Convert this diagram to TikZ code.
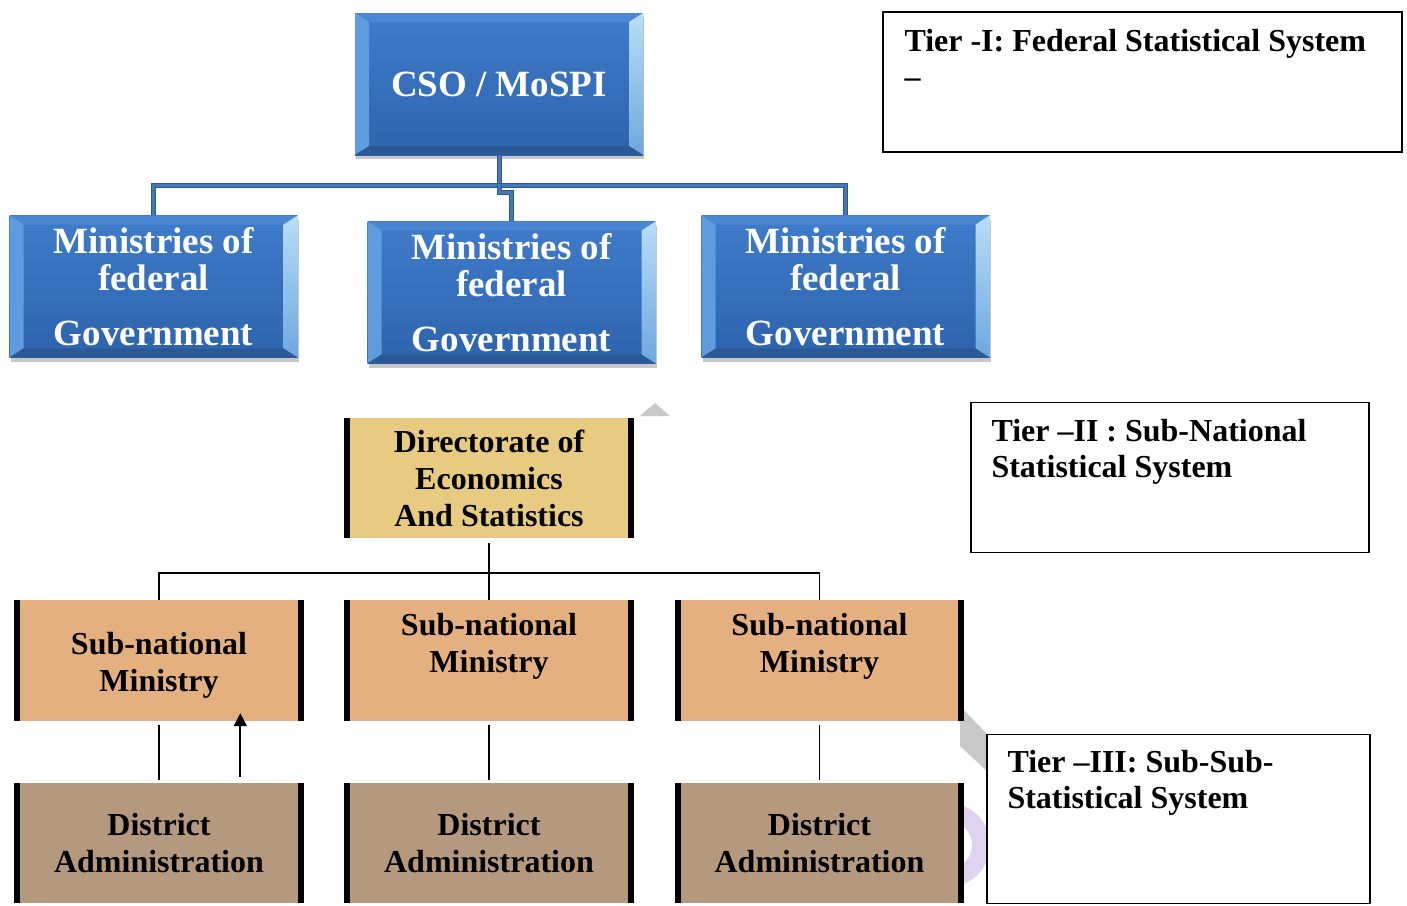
\documentclass[tikz,border=0pt]{standalone}
\usepackage{fontspec}
\setmainfont{Liberation Serif}
\usetikzlibrary{shadows,arrows.meta,calc}

\definecolor{bvface1}{HTML}{3F7CCB}
\definecolor{bvface2}{HTML}{2D63AC}
\definecolor{bvtopc}{HTML}{4A86D2}
\definecolor{bvleftc}{HTML}{5F9BDF}
\definecolor{bvright1}{HTML}{B8DEF8}
\definecolor{bvright2}{HTML}{6EA7DF}
\definecolor{bvbotc}{HTML}{2A5996}
\definecolor{linkblue}{HTML}{4478B8}
\definecolor{linkedge}{HTML}{2D5A8E}
\definecolor{dirfill}{HTML}{E6CB80}
\definecolor{subfill}{HTML}{E5B07F}
\definecolor{disfill}{HTML}{B4997F}
\definecolor{bandgrey}{HTML}{C9C9C9}
\definecolor{ringlilac}{HTML}{E2D2F2}

\begin{document}
\begin{tikzpicture}[x=1pt,y=-1pt,
  bluebox/.style={rectangle, inner sep=0, minimum width=288, minimum height=142,
    text=white, font=\fontsize{37}{37}\selectfont\bfseries,
    drop shadow={shadow xshift=1pt, shadow yshift=-4pt, opacity=.22, fill=black},
    path picture={
      \path (path picture bounding box.north west) coordinate (pnw)
            (path picture bounding box.north east) coordinate (pne)
            (path picture bounding box.south west) coordinate (psw)
            (path picture bounding box.south east) coordinate (pse);
      \shade[top color=bvface1, bottom color=bvface2] (psw) rectangle (pne);
      \fill[bvtopc] (pnw) -- (pne) -- ([shift={(-14pt,-9pt)}]pne) -- ([shift={(14pt,-9pt)}]pnw) -- cycle;
      \fill[bvleftc] (pnw) -- ([shift={(14pt,-9pt)}]pnw) -- ([shift={(14pt,9pt)}]psw) -- (psw) -- cycle;
      \shade[top color=bvright1, bottom color=bvright2] (pne) -- ([shift={(-14pt,-9pt)}]pne) -- ([shift={(-14pt,9pt)}]pse) -- (pse) -- cycle;
      \fill[bvbotc] (psw) -- ([shift={(14pt,9pt)}]psw) -- ([shift={(-14pt,9pt)}]pse) -- (pse) -- cycle;
    }},
  bluetext/.style={text=white, font=\fontsize{37}{37}\selectfont\bfseries, align=center, inner sep=0, anchor=base},
  flatbox/.style={rectangle, inner sep=0, minimum width=289, minimum height=121, fill=#1},
  boxtext/.style={font=\fontsize{32}{37}\selectfont\bfseries, align=center, inner sep=0, anchor=base},
  sidebar/.style={line width=6pt, black},
  bluelink/.style={draw=linkedge, line width=1pt, double=linkblue, double distance=3pt},
  blacklink/.style={line width=1.8pt, black},
  uparrow/.style={line width=1.8pt, black, -{Triangle[length=13pt,width=13pt]}},
  tierbox/.style={rectangle, draw=black, line width=1.4pt, fill=white, inner sep=0},
  tiertext/.style={font=\fontsize{32}{36}\selectfont\bfseries, align=left, inner sep=0, anchor=base west}
]
\useasboundingbox (0,0) rectangle (1407,905);

% faint background shapes behind the lower boxes
\fill[bandgrey] (640,416) -- (670,416) -- (655,403) -- cycle;
\fill[bandgrey] (960,706) -- (990,737) -- (990,774) -- (960,746) -- cycle;
\fill[ringlilac, even odd rule] (948,845) circle[radius=42] (948,845) circle[radius=24];

% federal tier
\coordinate (busA) at (499,185);
\node[bluebox] (cso) at (499,84) {CSO / MoSPI};
\node[bluebox] (m1) at (153.5,286.5) {};
\node[bluebox] (m2) at (511.5,292.5) {};
\node[bluebox] (m3) at (845.5,286.5) {};

% federal connectors
\draw[bluelink] (cso.south) -- (busA);
\draw[bluelink] (m1.north) |- (busA) -| (m3.north);
\draw[bluelink] (busA) -- ++(0,7) -| (m2.north);

% multi-line labels are anchored at the baseline of their last line
\foreach \n in {m1, m2, m3}
  \node[bluetext] (\n t) at ($(\n.north)+(0,130)$) {Ministries of\\federal\\[18pt]Government};

% sub-national tier
\node[flatbox=dirfill, minimum height=120] (dir) at (489,478) {};
\node[flatbox=subfill] (sn1) at (159,660.5) {};
\node[flatbox=subfill] (sn2) at (489,660.5) {};
\node[flatbox=subfill] (sn3) at (819.5,660.5) {};
\node[flatbox=disfill, minimum height=120] (da1) at (159,843) {};
\node[flatbox=disfill, minimum height=120] (da2) at (489,843) {};
\node[flatbox=disfill, minimum height=120] (da3) at (819.5,843) {};

\foreach \n in {dir,sn1,sn2,sn3,da1,da2,da3} {
  \draw[sidebar] ([xshift=3pt]\n.north west) -- ([xshift=3pt]\n.south west);
  \draw[sidebar] ([xshift=-3pt]\n.north east) -- ([xshift=-3pt]\n.south east);
}

\node[boxtext] (dirt) at ($(dir.north)+(0,109)$) {Directorate of\\Economics\\And Statistics};
\node[boxtext] (sn1t) at ($(sn1.north)+(0,92)$) {Sub-national\\Ministry};
\node[boxtext] (sn2t) at ($(sn2.north)+(0,73)$) {Sub-national\\Ministry};
\node[boxtext] (sn3t) at ($(sn3.north)+(0,73)$) {Sub-national\\Ministry};
\foreach \n in {da1,da2,da3}
  \node[boxtext] (\n t) at ($(\n.north)+(0,90)$) {District\\Administration};

% black connectors
\coordinate (busB) at (489,573);
\draw[blacklink] ($(dir.south)+(0,5)$) -- (busB);
\draw[blacklink] (sn1.north) |- (busB) -| (sn3.north);
\draw[blacklink] (busB) -- (sn2.north);
\foreach \a/\b in {sn1/da1, sn2/da2, sn3/da3}
  \draw[blacklink] ($(\a.south)+(0,4)$) -- ($(\b.north)+(0,-3)$);
\draw[uparrow] ($(da1.north west)+(226,-6)$) -- ($(sn1.south west)+(226,-8)$);

% tier labels
\node[tierbox, minimum width=519, minimum height=140] (tier1) at (1142.5,82) {};
\node[tiertext] (tier1t) at ($(tier1.north west)+(22,76)$) {Tier -I: Federal Statistical System\\–};
\node[tierbox, minimum width=398, minimum height=150] (tier2) at (1170,477.5) {};
\node[tiertext] (tier2t) at ($(tier2.north west)+(21,76)$) {Tier –II : Sub-National\\Statistical System};
\node[tierbox, minimum width=383, minimum height=169] (tier3) at (1178.5,819) {};
\node[tiertext] (tier3t) at ($(tier3.north west)+(21,75)$) {Tier –III: Sub-Sub-\\Statistical System};
\end{tikzpicture}
\end{document}
